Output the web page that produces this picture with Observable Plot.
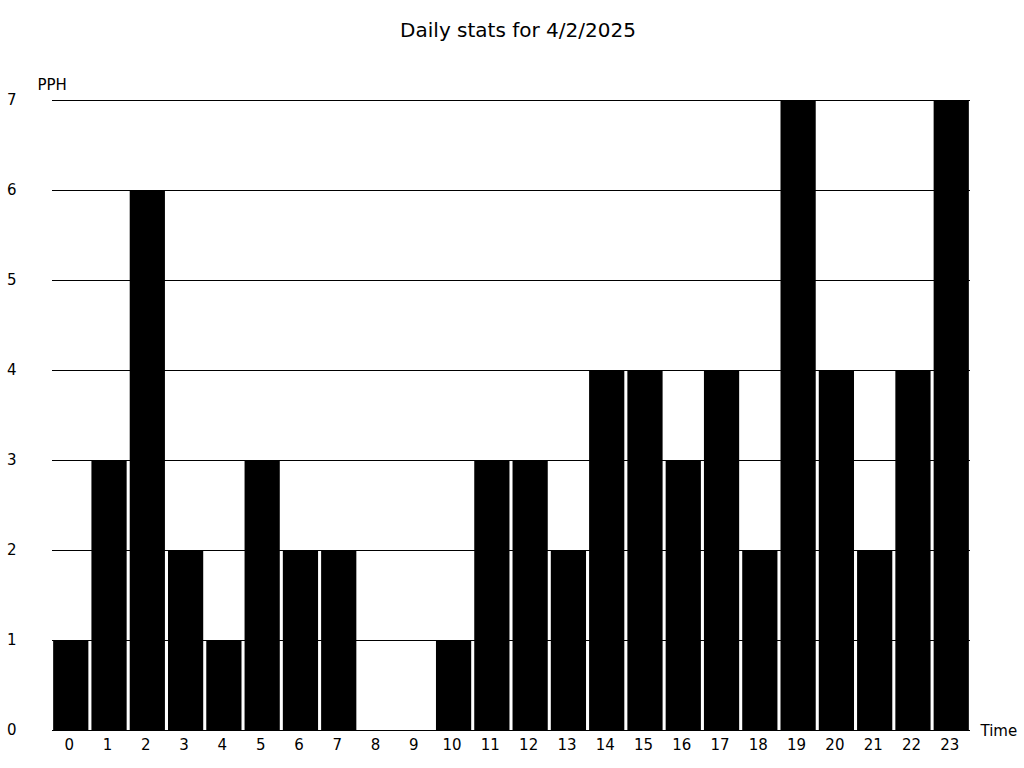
<!DOCTYPE html>
<html>
<head>
<meta charset="utf-8">
<script src="https://cdn.jsdelivr.net/npm/d3@7"></script>
<script src="https://cdn.jsdelivr.net/npm/@observablehq/plot@0.6"></script>
<style>
  body { margin: 0; background: #fff; font-family: "DejaVu Sans", sans-serif; }
  #wrap { position: relative; width: 1024px; height: 768px; }
  #title { position: absolute; top: 18px; left: 0; width: 1036px; text-align: center; font-size: 20px; line-height: 24px; color: #000; }
</style>
</head>
<body>
<div id="wrap"><div id="title">Daily stats for 4/2/2025</div><div id="chart"></div></div>
<script>
const hours = [0,1,2,3,4,5,6,7,8,9,10,11,12,13,14,15,16,17,18,19,20,21,22,23];
const pph   = [1,3,6,2,1,3,2,2,0,0,1,3,3,2,4,4,3,4,2,7,4,2,4,7];
const yTicks = [0,1,2,3,4,5,6,7];
const data = hours.map((h, i) => ({hour: h, value: pph[i]}));

const chart = Plot.plot({
  width: 1024,
  height: 768,
  marginLeft: 52,
  marginRight: 54,
  marginTop: 100,
  marginBottom: 38,
  style: {fontFamily: "DejaVu Sans, sans-serif", fontSize: "15px", color: "#000", background: "#fff"},
  x: {type: "band", domain: hours, paddingInner: 0.08, paddingOuter: 0.03, round: false, label: null},
  y: {domain: [0, 7], label: null},
  marks: [
    Plot.ruleY(yTicks, {stroke: "#000", strokeWidth: 1}),
    Plot.barY(data, {x: "hour", y: "value", fill: "#000"}),
    Plot.axisX({tickSize: 0, tickPadding: 9, dx: -2, label: null, fontSize: 15}),
    Plot.axisY(yTicks, {tickSize: 0, tickPadding: 36, tickFormat: "d", label: null, fontSize: 15}),
    Plot.text(["PPH"], {frameAnchor: "top-left", textAnchor: "start", dx: -15, dy: -21, fontSize: 15}),
    Plot.text(["Time"], {frameAnchor: "bottom-right", textAnchor: "start", dx: 10, dy: 5, fontSize: 15})
  ]
});
document.getElementById("chart").appendChild(chart);
</script>
</body>
</html>
